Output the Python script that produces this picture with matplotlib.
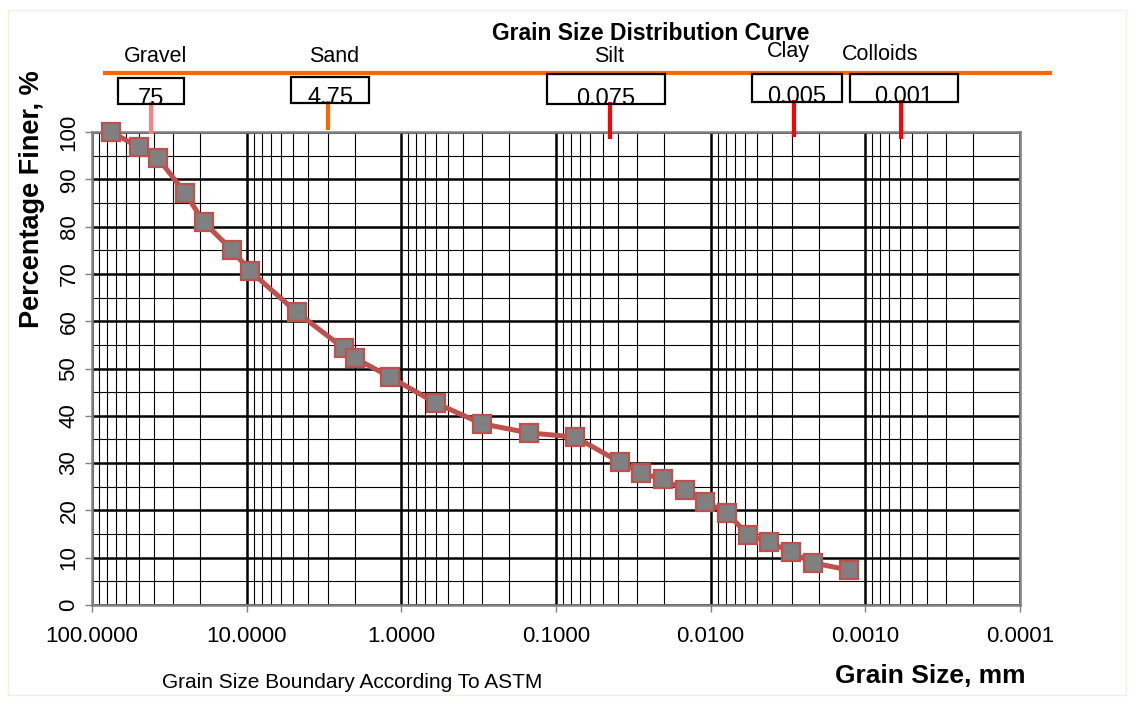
import numpy as np
import matplotlib.pyplot as plt
from matplotlib.ticker import LogLocator, FixedLocator, NullFormatter
from matplotlib.patches import Rectangle
from matplotlib.lines import Line2D

plt.rcParams['font.family'] = ['Liberation Sans', 'DejaVu Sans']

# sieve / hydrometer results
grain_size = [75, 50, 37.5, 25, 19, 12.5, 9.5, 4.75, 2.36, 2.0, 1.18, 0.6, 0.3,
              0.15, 0.075, 0.0386, 0.0283, 0.0204, 0.0147, 0.0109, 0.00785,
              0.00574, 0.0042, 0.00303, 0.00218, 0.00128]
pct_finer = [100, 96.8, 94.5, 87.1, 81.0, 75.1, 70.6, 61.9, 54.3, 52.2, 48.2,
             42.7, 38.3, 36.4, 35.5, 30.2, 27.9, 26.6, 24.3, 21.8, 19.5,
             14.8, 13.3, 11.2, 8.9, 7.4]

# ASTM boundary header (drawn shapes, placed in figure pixels like the original)
zone_names = ['Gravel', 'Sand', 'Silt', 'Clay', 'Colloids']
zone_name_pos = [(156, 57), (334, 57), (609, 57), (788, 52), (880, 55)]
bound_labels = ['75', '4.75', '0.075', '0.005', '0.001']
bound_boxes = [(118, 184, 78, 104), (291, 369, 77, 103), (547, 665, 74, 104),
               (752, 842, 74, 102), (850, 958, 74, 102)]
bound_ticks = [(151, 104, 132, '#FF8080'), (328, 103, 128, '#FF6600'),
               (610, 104, 137, '#FF0000'), (794, 102, 135, '#FF0000'),
               (901, 102, 137, '#FF0000')]

W, H = 1134, 705
fig = plt.figure(figsize=(W / 100, H / 100), dpi=100)
ax = fig.add_axes([92 / W, 1 - 605 / H, (1020 - 92) / W, (605 - 132) / H])


def fx(px):
    return px / W


def fy(py):
    return 1 - py / H


ax.set_xscale('log')
ax.set_xlim(100, 0.0001)
ax.set_ylim(0, 100)

ax.xaxis.set_minor_locator(LogLocator(base=10, subs=np.arange(2, 10), numticks=20))
ax.xaxis.set_minor_formatter(NullFormatter())
ax.set_xticks([100, 10, 1, 0.1, 0.01, 0.001, 0.0001])
ax.set_xticklabels(['100.0000', '10.0000', '1.0000', '0.1000', '0.0100', '0.0010', '0.0001'])
ax.yaxis.set_major_locator(FixedLocator(np.arange(0, 101, 10)))
ax.yaxis.set_minor_locator(FixedLocator(np.arange(5, 100, 10)))

ax.grid(which='major', color='black', lw=1.8)
ax.grid(which='minor', color='black', lw=0.8)
ax.set_axisbelow(True)

ax.tick_params(axis='x', which='major', length=5, width=1, color='#808080',
               labelsize=16, pad=10)
ax.tick_params(axis='x', which='minor', length=0)
ax.tick_params(axis='y', which='major', length=5, width=1, color='#808080',
               labelsize=16, labelrotation=90, pad=4)
ax.tick_params(axis='y', which='minor', length=0)
for lbl in ax.get_yticklabels():
    lbl.set_va('center')
for s in ax.spines.values():
    s.set_color('#808080')
    s.set_linewidth(1.8)

ax.plot(grain_size, pct_finer, color='#C0504D', lw=3.6, marker='s', ms=13,
        mfc='#808080', mec='#C0504D', mew=1.6, zorder=5, clip_on=False)

# outer faint frame
fig.add_artist(Rectangle((fx(8), fy(695)), fx(1126) - fx(8), fy(10) - fy(695),
                         transform=fig.transFigure, fill=False, ec='#FDEBDD', lw=1))

# title and header
fig.text(fx(651), fy(33), 'Grain Size Distribution Curve', ha='center', va='center',
         fontsize=16.5, fontweight='bold')
fig.add_artist(Line2D([fx(105), fx(1050)], [fy(73), fy(73)], color='#FF6600', lw=3,
                      transform=fig.transFigure))
for name, (px, py) in zip(zone_names, zone_name_pos):
    fig.text(fx(px), fy(py), name, ha='center', va='center', fontsize=15.5,
             bbox=dict(facecolor='white', edgecolor='none', pad=0.5) if name == 'Clay' else None)
for lab, (x0, x1, y0, y1) in zip(bound_labels, bound_boxes):
    fig.add_artist(Rectangle((fx(x0), fy(y1)), fx(x1) - fx(x0), fy(y0) - fy(y1),
                             transform=fig.transFigure, facecolor='white',
                             edgecolor='none', zorder=1))
    fig.text(fx((x0 + x1) / 2), fy(y1 + 1), lab, ha='center', va='baseline',
             fontsize=17, zorder=2)
    fig.add_artist(Rectangle((fx(x0), fy(y1)), fx(x1) - fx(x0), fy(y0) - fy(y1),
                             transform=fig.transFigure, fill=False,
                             edgecolor='black', lw=1.6, zorder=3))
for px, y0, y1, c in bound_ticks:
    fig.add_artist(Line2D([fx(px), fx(px)], [fy(y0), fy(y1)], color=c, lw=3,
                          transform=fig.transFigure))

fig.text(fx(32), fy(199), 'Percentage Finer, %', rotation=90, ha='center', va='center',
         fontsize=19.5, fontweight='bold')
fig.text(fx(930), fy(676), 'Grain Size, mm', ha='center', va='center',
         fontsize=19, fontweight='bold')
fig.text(fx(352), fy(682), 'Grain Size Boundary According To ASTM', ha='center',
         va='center', fontsize=15)

fig.savefig('out.png', dpi=100)
